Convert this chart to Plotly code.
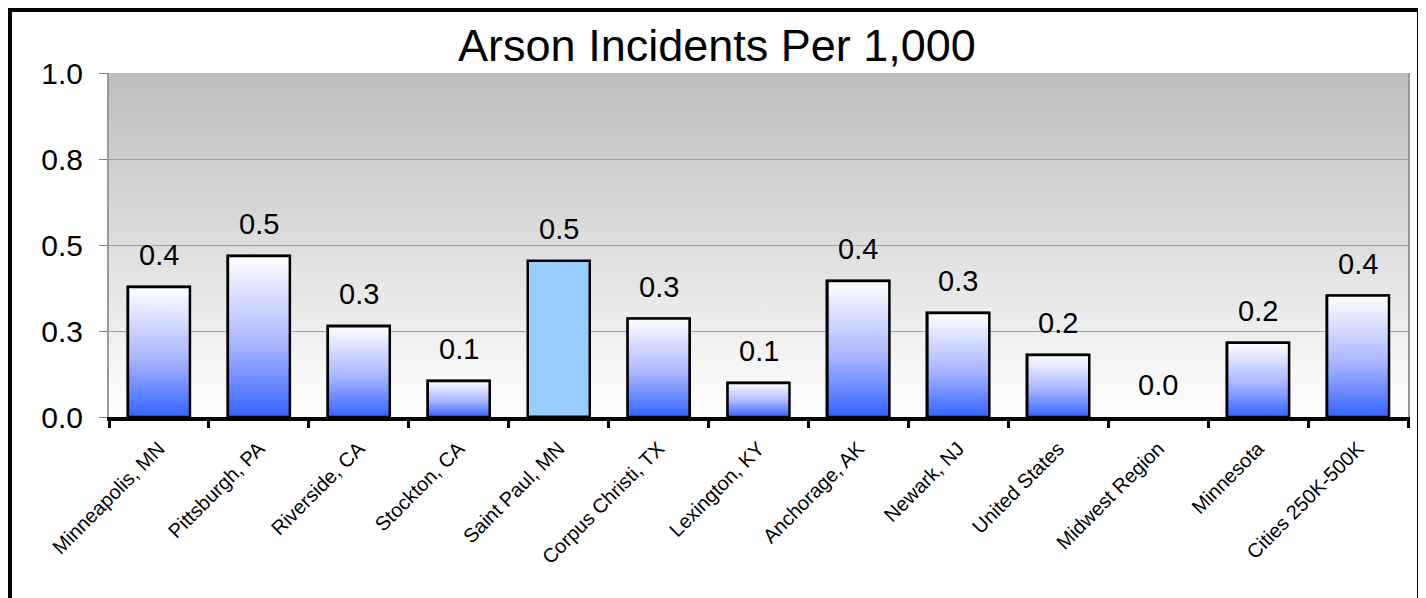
import base64
import plotly.graph_objects as go

# data
categories = [
    "Minneapolis, MN", "Pittsburgh, PA", "Riverside, CA", "Stockton, CA",
    "Saint Paul, MN", "Corpus Christi, TX", "Lexington, KY", "Anchorage, AK",
    "Newark, NJ", "United States", "Midwest Region", "Minnesota", "Cities 250K-500K",
]
arson_rates = [0.378, 0.468, 0.264, 0.105, 0.453, 0.286, 0.099, 0.395, 0.302, 0.18, 0.0, 0.216, 0.353]
highlight = "Saint Paul, MN"

y_ticks = [0.0, 0.25, 0.5, 0.75, 1.0]
y_tick_labels = ["0.0", "0.3", "0.5", "0.8", "1.0"]

TITLE = "Arson Incidents Per 1,000"
FONT = "Liberation Sans, Arial, sans-serif"

# the page has an 8px body margin, so the figure is sized to sit inside it
W, H = 1418, 590
M_L, M_R, M_T, M_B = 101, 18, 65, 181
BAR_W = 0.62


def px_to_paper_x(px):
    return (px - M_L) / (W - M_L - M_R)


def px_to_paper_y(py):
    return 1 - (py - M_T) / (H - M_T - M_B)


def background_svg():
    """Vertical grey-to-white gradient used behind the plot area."""
    svg = (
        '<svg xmlns="http://www.w3.org/2000/svg" width="100" height="100" preserveAspectRatio="none">'
        '<defs><linearGradient id="g" x1="0" y1="0" x2="0" y2="1">'
        '<stop offset="0" stop-color="#bdbdbd"/><stop offset="1" stop-color="#ffffff"/>'
        '</linearGradient></defs><rect width="100" height="100" fill="url(#g)"/></svg>'
    )
    return "data:image/svg+xml;base64," + base64.b64encode(svg.encode()).decode()


xs = list(range(len(categories)))
fig = go.Figure()

# bar outlines (and the solid highlighted bar)
fig.add_trace(go.Bar(
    x=xs, y=arson_rates, width=BAR_W,
    marker=dict(
        color=["#99ccff" if c == highlight else "rgba(0,0,0,0)" for c in categories],
        line=dict(color="black", width=[2.5 if v > 0 else 0 for v in arson_rates]),
    ),
    hovertext=categories, showlegend=False,
))

# gradient fill for each bar (white at top, blue at bottom)
for x, cat, val in zip(xs, categories, arson_rates):
    if cat == highlight or val <= 0:
        continue
    fig.add_trace(go.Scatter(
        x=[x - BAR_W / 2, x + BAR_W / 2, x + BAR_W / 2, x - BAR_W / 2, x - BAR_W / 2],
        y=[0, 0, val, val, 0],
        mode="lines", line=dict(width=2.5, color="black"), fill="toself",
        fillgradient=dict(
            type="vertical", start=0, stop=val,
            colorscale=[[0, "#3563ff"], [0.45, "#a9b6ff"], [1, "#ffffff"]],
        ),
        hoverinfo="skip", showlegend=False,
    ))

for x, val in zip(xs, arson_rates):
    fig.add_annotation(
        x=x, y=val, text=f"{val:.1f}", showarrow=False,
        yshift=32, yanchor="middle", font=dict(size=29, color="black", family=FONT),
    )

fig.update_layout(
    width=W, height=H,
    margin=dict(l=M_L, r=M_R, t=M_T, b=M_B),
    paper_bgcolor="white", plot_bgcolor="rgba(0,0,0,0)",
    font=dict(family=FONT, color="black"),
    title=dict(
        text=TITLE, x=0.5, xanchor="center", y=1 - 37 / H, yanchor="middle",
        font=dict(size=45, color="black", family=FONT),
    ),
    images=[dict(
        source=background_svg(), xref="paper", yref="paper", x=0, y=1,
        sizex=1, sizey=1, sizing="stretch", layer="below",
    )],
    shapes=[dict(
        type="rect", xref="paper", yref="paper",
        x0=px_to_paper_x(1), x1=px_to_paper_x(1412),
        y0=px_to_paper_y(600), y1=px_to_paper_y(1),
        line=dict(color="black", width=6),
    )],
    bargap=0,
)

fig.update_xaxes(
    range=[-0.5, len(categories) - 0.5],
    tickmode="array", tickvals=xs, ticktext=categories, tickangle=-45,
    tickfont=dict(size=20, color="black"), ticks="", ticklabelstandoff=8,
    showgrid=False, zeroline=False,
    showline=True, linecolor="black", linewidth=4,
    minor=dict(
        tickmode="array", tickvals=[x - 0.5 for x in xs] + [len(xs) - 0.5],
        ticks="outside", ticklen=7, tickwidth=3, tickcolor="black", showgrid=False,
    ),
)
fig.update_yaxes(
    range=[0, 1], tickmode="array", tickvals=y_ticks, ticktext=y_tick_labels,
    tickfont=dict(size=30, color="black"), ticks="outside", ticklen=8,
    tickcolor="#808080", ticklabelstandoff=10,
    showgrid=True, gridcolor="#a0a0a0", gridwidth=1, zeroline=False,
    showline=True, linecolor="#999999", linewidth=2, mirror=True,
)

fig.write_html("out.html")
